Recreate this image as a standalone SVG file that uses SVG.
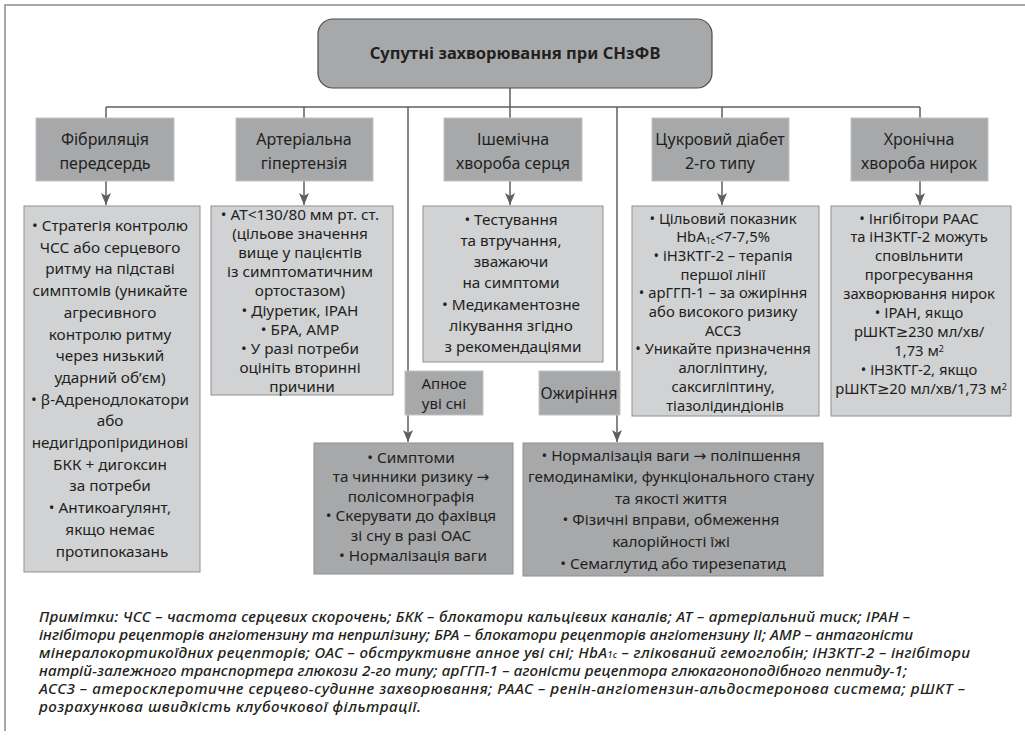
<svg xmlns="http://www.w3.org/2000/svg" width="1025" height="737" viewBox="0 0 1025 737">
<style>
.frame{stroke:#8c8c8c;stroke-width:1.5;fill:none}
.conn{stroke:#5f5f5f;stroke-width:1.5;fill:none}
.top{fill:#a7a8aa;stroke:#4d4d4d;stroke-width:1.2}
.cat{fill:#a7a8aa;stroke:#c2c3c5;stroke-width:1}
.det{fill:#d1d2d4;stroke:#8f9092;stroke-width:1}
.detd{fill:#a7a8aa;stroke:#8f9092;stroke-width:1}
text{font-family:"Noto Sans","DejaVu Sans",sans-serif;fill:#231f20;text-anchor:middle}
.title{font-size:16.5px;font-weight:bold}
.ct{font-size:16px}
.cs{font-size:15px}
.dt{font-size:15.3px}
.ds{font-size:14.8px}
.note{font-size:15.2px;font-style:italic;font-weight:500;text-anchor:start}
.sub{font-size:9px}
</style>
<defs>
<marker id="arr" markerUnits="userSpaceOnUse" markerWidth="12" markerHeight="10" viewBox="0 0 12 10" refX="12" refY="5" orient="auto">
<path d="M0,0 L12,5 L0,10 L3,5 z" fill="#5f5f5f"/>
</marker>
</defs>
<rect width="1025" height="737" fill="#ffffff"/>
<path class="frame" d="M5,731 V5 H1025"/>

<g id="connectors">
<path class="conn" d="M510,88 V107 M106,107 H920"/>
<path class="conn" d="M106,107 V118 M304,107 V118 M510,107 V118 M722,107 V118 M920,107 V118"/>
<path class="conn" marker-end="url(#arr)" d="M106,181 V205"/>
<path class="conn" marker-end="url(#arr)" d="M304,181 V205"/>
<path class="conn" marker-end="url(#arr)" d="M510,181 V205"/>
<path class="conn" marker-end="url(#arr)" d="M722,181 V205"/>
<path class="conn" marker-end="url(#arr)" d="M920,181 V205"/>
<path class="conn" marker-end="url(#arr)" d="M408,107 V442"/>
<path class="conn" marker-end="url(#arr)" d="M617,107 V442"/>
</g>

<g id="root">
<rect class="top" x="318" y="19" width="394" height="69" rx="15"/>
<text class="title" x="515" y="59">Супутні захворювання при СНзФВ</text>
</g>

<g id="fib">
<rect class="cat" x="36" y="118" width="138" height="63"/>
<text class="ct"><tspan x="105" y="145">Фібриляція</tspan><tspan x="105" y="169">передсердь</tspan></text>
</g>
<g id="htn">
<rect class="cat" x="236" y="118" width="137" height="63"/>
<text class="ct"><tspan x="304" y="145">Артеріальна</tspan><tspan x="304" y="169">гіпертензія</tspan></text>
</g>
<g id="ihd">
<rect class="cat" x="444" y="118" width="138" height="63"/>
<text class="ct"><tspan x="513" y="145">Ішемічна</tspan><tspan x="513" y="169">хвороба серця</tspan></text>
</g>
<g id="dm">
<rect class="cat" x="652" y="118" width="137" height="63"/>
<text class="ct"><tspan x="720" y="145">Цукровий діабет</tspan><tspan x="720" y="169">2-го типу</tspan></text>
</g>
<g id="ckd">
<rect class="cat" x="851" y="118" width="137" height="63"/>
<text class="ct"><tspan x="919" y="145">Хронічна</tspan><tspan x="919" y="169">хвороба нирок</tspan></text>
</g>

<g id="fib-detail">
<rect class="det" x="24" y="206" width="176" height="366"/>
<text class="dt">
<tspan x="112" y="231">• Стратегія контролю</tspan>
<tspan x="112" y="252.7">ЧСС або серцевого</tspan>
<tspan x="112" y="274.4">ритму на підставі</tspan>
<tspan x="112" y="296.1">симптомів (уникайте</tspan>
<tspan x="112" y="317.8">агресивного</tspan>
<tspan x="112" y="339.5">контролю ритму</tspan>
<tspan x="112" y="361.2">через низький</tspan>
<tspan x="112" y="382.9">ударний об’єм)</tspan>
<tspan x="112" y="404.6">• β-Адренодлокатори</tspan>
<tspan x="112" y="426.3">або</tspan>
<tspan x="112" y="448">недигідропіридинові</tspan>
<tspan x="112" y="469.7">БКК + дигоксин</tspan>
<tspan x="112" y="491.4">за потреби</tspan>
<tspan x="112" y="513.1">• Антикоагулянт,</tspan>
<tspan x="112" y="534.8">якщо немає</tspan>
<tspan x="112" y="556.5">протипоказань</tspan>
</text>
</g>

<g id="htn-detail">
<rect class="det" x="211" y="206" width="182" height="189"/>
<text class="dt">
<tspan x="302" y="220">• АТ&lt;130/80 мм рт. ст.</tspan>
<tspan x="302" y="239.1">(цільове значення</tspan>
<tspan x="302" y="258.2">вище у пацієнтів</tspan>
<tspan x="302" y="277.3">із симптоматичним</tspan>
<tspan x="302" y="296.4">ортостазом)</tspan>
<tspan x="302" y="315.5">• Діуретик, ІРАН</tspan>
<tspan x="302" y="334.6">• БРА, АМР</tspan>
<tspan x="302" y="353.7">• У разі потреби</tspan>
<tspan x="302" y="372.8">оцініть вторинні</tspan>
<tspan x="302" y="391.9">причини</tspan>
</text>
</g>

<g id="ihd-detail">
<rect class="det" x="423" y="206" width="180" height="156"/>
<text class="dt">
<tspan x="513" y="224.5">• Тестування</tspan>
<tspan x="513" y="245.8">та втручання,</tspan>
<tspan x="513" y="267.1">зважаючи</tspan>
<tspan x="513" y="288.4">на симптоми</tspan>
<tspan x="513" y="309.7">• Медикаментозне</tspan>
<tspan x="513" y="331">лікування згідно</tspan>
<tspan x="513" y="352.3">з рекомендаціями</tspan>
</text>
</g>

<g id="dm-detail">
<rect class="det" x="632" y="206" width="187" height="210"/>
<text class="ds">
<tspan x="725" y="223.5">• Цільовий показник</tspan>
<tspan x="725" y="242.2">HbA<tspan class="sub" baseline-shift="-1.5">1c</tspan>&lt;7-7,5%</tspan>
<tspan x="725" y="260.9">• іНЗКТГ-2 – терапія</tspan>
<tspan x="725" y="279.6">першої лінії</tspan>
<tspan x="725" y="298.3">• арГГП-1 – за ожиріння</tspan>
<tspan x="725" y="317">або високого ризику</tspan>
<tspan x="725" y="335.7">АССЗ</tspan>
<tspan x="725" y="354.4">• Уникайте призначення</tspan>
<tspan x="725" y="373.1">алогліптину,</tspan>
<tspan x="725" y="391.8">саксигліптину,</tspan>
<tspan x="725" y="410.5">тіазолідиндіонів</tspan>
</text>
</g>

<g id="ckd-detail">
<rect class="det" x="831" y="206" width="180" height="210"/>
<text class="ds">
<tspan x="921" y="223.5">• Інгібітори РААС</tspan>
<tspan x="921" y="242.4">та іНЗКТГ-2 можуть</tspan>
<tspan x="921" y="261.3">сповільнити</tspan>
<tspan x="921" y="280.2">прогресування</tspan>
<tspan x="921" y="299.1">захворювання нирок</tspan>
<tspan x="921" y="318">• ІРАН, якщо</tspan>
<tspan x="921" y="336.9">рШКТ≥230 мл/хв/</tspan>
<tspan x="921" y="355.8">1,73 м<tspan class="sub" baseline-shift="4">2</tspan></tspan>
<tspan x="921" y="374.7">• іНЗКТГ-2, якщо</tspan>
<tspan x="921" y="393.6">рШКТ≥20 мл/хв/1,73 м<tspan class="sub" baseline-shift="4">2</tspan></tspan>
</text>
</g>

<g id="apnea">
<rect class="cat" x="405" y="371" width="78" height="44"/>
<text class="cs"><tspan x="444" y="389">Апное</tspan><tspan x="444" y="408.5">уві сні</tspan></text>
</g>
<g id="obesity">
<rect class="cat" x="539" y="371" width="81" height="44"/>
<text class="ct"><tspan x="579" y="399">Ожиріння</tspan></text>
</g>

<g id="apnea-detail">
<rect class="detd" x="314" y="443" width="199" height="131"/>
<text class="dt">
<tspan x="413" y="462.5">• Симптоми</tspan>
<tspan x="413" y="482.1">та чинники ризику →</tspan>
<tspan x="413" y="501.7">полісомнографія</tspan>
<tspan x="413" y="521.3">• Скерувати до фахівця</tspan>
<tspan x="413" y="540.9">зі сну в разі ОАС</tspan>
<tspan x="413" y="560.5">• Нормалізація ваги</tspan>
</text>
</g>

<g id="obesity-detail">
<rect class="detd" x="523" y="443" width="300" height="133"/>
<text class="dt">
<tspan x="673" y="460.5">• Нормалізація ваги → поліпшення</tspan>
<tspan x="673" y="482.1">гемодинаміки, функціонального стану</tspan>
<tspan x="673" y="503.7">та якості життя</tspan>
<tspan x="673" y="525.3">• Фізичні вправи, обмеження</tspan>
<tspan x="673" y="546.9">калорійності їжі</tspan>
<tspan x="673" y="568.5">• Семаглутид або тирезепатид</tspan>
</text>
</g>

<g id="notes">
<text class="note" x="39" y="622" textLength="871" lengthAdjust="spacing">Примітки: ЧСС – частота серцевих скорочень; БКК – блокатори кальцієвих каналів; АТ – артеріальний тиск; ІРАН –</text>
<text class="note" x="39" y="640" textLength="874" lengthAdjust="spacing">інгібітори рецепторів ангіотензину та неприлізину; БРА – блокатори рецепторів ангіотензину ІІ; АМР – антагоністи</text>
<text class="note" x="39" y="658" textLength="931" lengthAdjust="spacing">мінералокортикоїдних рецепторів; ОАС – обструктивне апное уві сні; HbA<tspan class="sub">1c</tspan> – глікований гемоглобін; іНЗКТГ-2 – інгібітори</text>
<text class="note" x="39" y="676" textLength="868" lengthAdjust="spacing">натрій-залежного транспортера глюкози 2-го типу; арГГП-1 – агоністи рецептора глюкагоноподібного пептиду-1;</text>
<text class="note" x="39" y="694" textLength="926" lengthAdjust="spacing">АССЗ – атеросклеротичне серцево-судинне захворювання; РААС – ренін-ангіотензин-альдостеронова система; рШКТ –</text>
<text class="note" x="39" y="712" textLength="382" lengthAdjust="spacing">розрахункова швидкість клубочкової фільтрації.</text>
</g>
</svg>
